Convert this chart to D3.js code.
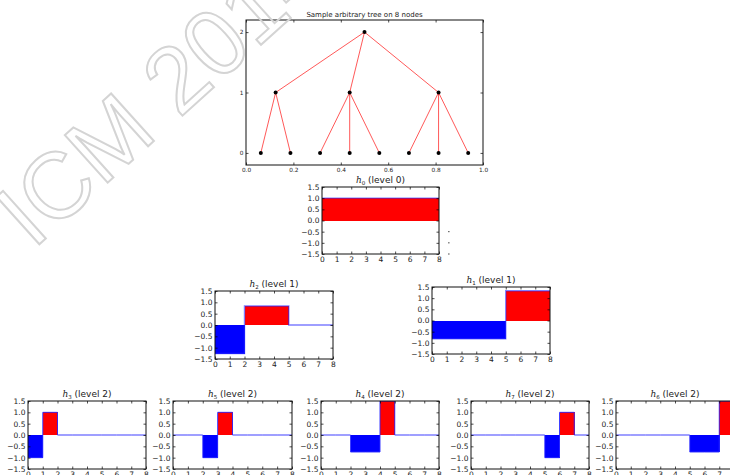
<!DOCTYPE html>
<html><head><meta charset="utf-8">
<script src="https://cdn.jsdelivr.net/npm/d3@7/dist/d3.min.js"></script>
<style>body{margin:0;background:#fff;}svg{display:block;}</style>
</head><body>
<svg id="c" width="730" height="475"></svg>
<script>
// ---- data ----
const treeTitle = "Sample arbitrary tree on 8 nodes";
const nodeX = [0.5, 0.125, 0.4375, 0.8125, 0.0625, 0.1875, 0.3125, 0.4375, 0.5625, 0.6875, 0.8125, 0.9375];
const nodeY = [2, 1, 1, 1, 0, 0, 0, 0, 0, 0, 0, 0];
const nodeParent = [-1, 0, 0, 0, 1, 1, 2, 2, 2, 3, 3, 3];
const treeXTicks = [0.0, 0.2, 0.4, 0.6, 0.8, 1.0];
const treeYTicks = [0, 1, 2];

const panelNames = ["0", "2", "1", "3", "5", "4", "7", "6"];
const panelLevels = [0, 1, 1, 2, 2, 2, 2, 2];
const h0 = [1, 1, 1, 1, 1, 1, 1, 1];
const h2 = [-1.26, -1.26, 0.84, 0.84, 0.84, 0, 0, 0];
const h1 = [-0.82, -0.82, -0.82, -0.82, -0.82, 1.33, 1.33, 1.33];
const h3 = [-1, 1, 0, 0, 0, 0, 0, 0];
const h5 = [0, 0, -1, 1, 0, 0, 0, 0];
const h4 = [0, 0, -0.75, -0.75, 1.5, 0, 0, 0];
const h7 = [0, 0, 0, 0, 0, -1, 1, 0];
const h6 = [0, 0, 0, 0, 0, -0.75, -0.75, 1.5];
const panelValues = [h0, h2, h1, h3, h5, h4, h7, h6];
const panelXTicks = [0, 1, 2, 3, 4, 5, 6, 7, 8];
const panelYTicks = [-1.5, -1.0, -0.5, 0.0, 0.5, 1.0, 1.5];
const strayTicks = [-0.5, -1.0, -1.5];
const watermark = "ICM 2014";

// ---- layout ----
const svg = d3.select("#c");
const FONT = "'DejaVu Sans', sans-serif";
const TXT = "#222";

function frameAxes(g, xs, ys, xt, yt, fmtX, fmtY, fs, tl, padX) {
  const [x0, x1] = xs.range();
  const [y0, y1] = ys.range(); // y0 bottom, y1 top
  const ax = [
    g.append("g").attr("transform", `translate(0,${y0})`).call(d3.axisBottom(xs).tickValues(xt).tickFormat(fmtX).tickSize(-tl).tickPadding(padX)),
    g.append("g").attr("transform", `translate(0,${y1})`).call(d3.axisTop(xs).tickValues(xt).tickFormat("").tickSize(-tl)),
    g.append("g").attr("transform", `translate(${x0},0)`).call(d3.axisLeft(ys).tickValues(yt).tickFormat(fmtY).tickSize(-tl).tickPadding(2.5)),
    g.append("g").attr("transform", `translate(${x1},0)`).call(d3.axisRight(ys).tickValues(yt).tickFormat("").tickSize(-tl))
  ];
  ax.forEach(a => {
    a.select(".domain").remove();
    a.selectAll("line").attr("stroke", "#000").attr("stroke-width", 0.7);
    a.selectAll("text").attr("font-family", FONT).attr("font-size", fs).attr("fill", TXT);
  });
  g.append("rect").attr("x", x0).attr("y", y1).attr("width", x1 - x0).attr("height", y0 - y1)
    .attr("fill", "none").attr("stroke", "#111").attr("stroke-width", 1);
}

// ---- tree ----
(function () {
  const L = 246, R = 483, T = 20, B = 165;
  const xs = d3.scaleLinear().domain([0, 1]).range([L, R]);
  const ys = d3.scaleLinear().domain([-0.2, 2.2]).range([B, T]);
  const g = svg.append("g");
  const edges = nodeParent.map((p, i) => [p, i]).filter(d => d[0] >= 0);
  g.selectAll("line.e").data(edges).join("line")
    .attr("x1", d => xs(nodeX[d[0]])).attr("y1", d => ys(nodeY[d[0]]))
    .attr("x2", d => xs(nodeX[d[1]])).attr("y2", d => ys(nodeY[d[1]]))
    .attr("stroke", "#ff3030").attr("stroke-opacity", 0.8).attr("stroke-width", 1);
  g.selectAll("circle").data(nodeX).join("circle")
    .attr("cx", d => xs(d)).attr("cy", (d, i) => ys(nodeY[i])).attr("r", 2).attr("fill", "#000");
  frameAxes(g, xs, ys, treeXTicks, treeYTicks, d3.format(".1f"), d3.format("d"), 5.8, 2.5, 2.5);
  g.append("text").attr("x", (L + R) / 2).attr("y", T - 3).attr("text-anchor", "middle")
    .attr("font-family", FONT).attr("font-size", 7).attr("fill", TXT).text(treeTitle);
})();

// ---- panels ----
const boxes = [
  [322, 439, 187, 254],
  [215, 333, 291, 359],
  [432, 550, 287, 354],
  [28, 146, 401, 469],
  [173, 292, 401, 469],
  [321, 439, 401, 469],
  [471, 589, 401, 469],
  [616, 734, 401, 469]
];

panelValues.forEach((vals, k) => {
  const [L, R, T, B] = boxes[k];
  const xs = d3.scaleLinear().domain([0, 8]).range([L, R]);
  const ys = d3.scaleLinear().domain([-1.5, 1.5]).range([B, T]);
  const g = svg.append("g");
  const clipId = "clip" + k;
  g.append("clipPath").attr("id", clipId).append("rect").attr("x", L).attr("y", T).attr("width", R - L).attr("height", B - T);
  const pg = g.append("g").attr("clip-path", `url(#${clipId})`);
  pg.selectAll("rect").data(vals.map((v, i) => ({ v, i })).filter(d => d.v !== 0)).join("rect")
    .attr("x", d => xs(d.i)).attr("width", d => xs(d.i + 1) - xs(d.i) + 0.3)
    .attr("y", d => ys(Math.max(d.v, 0))).attr("height", d => Math.abs(ys(d.v) - ys(0)))
    .attr("fill", d => d.v > 0 ? "#ff0000" : "#0000ff").attr("shape-rendering", "crispEdges");
  const pts = panelXTicks.map(i => [i, vals[Math.min(i, 7)]]);
  pg.append("path").attr("d", d3.line().x(d => xs(d[0])).y(d => ys(d[1])).curve(d3.curveStepAfter)(pts))
    .attr("fill", "none").attr("stroke", "#2a2aff").attr("stroke-opacity", panelLevels[k] === 2 ? 0.9 : 0.6)
    .attr("stroke-width", panelLevels[k] === 2 ? 1 : 1.4);
  frameAxes(g, xs, ys, panelXTicks, panelYTicks, d3.format("d"), d3.format(".1f"), 7.5, 2.5, 2.5);
  const t = g.append("text").attr("x", (L + R) / 2).attr("y", T - 4).attr("text-anchor", "middle")
    .attr("font-family", FONT).attr("font-size", 9).attr("fill", TXT);
  t.append("tspan").attr("font-style", "italic").attr("font-family", "'DejaVu Serif', serif").text("h");
  t.append("tspan").attr("font-size", 5.5).attr("dy", 2).text(panelNames[k]);
  t.append("tspan").attr("dy", -2).text(" (level " + panelLevels[k] + ")");
  if (k === 0) {
    g.selectAll("rect.stray").data(strayTicks).join("rect").attr("class", "stray")
      .attr("x", 448).attr("y", d => ys(d) - 0.5).attr("width", 1.6).attr("height", 1).attr("fill", "#555");
  }
});

// ---- watermark ----
svg.append("text").attr("transform", "translate(33,250) rotate(-42)")
  .attr("font-family", "'Liberation Sans', Arial, sans-serif").attr("font-size", 93)
  .attr("fill", "none").attr("stroke", "#d4d4d4").attr("stroke-width", 2).text(watermark);
</script>
</body></html>
